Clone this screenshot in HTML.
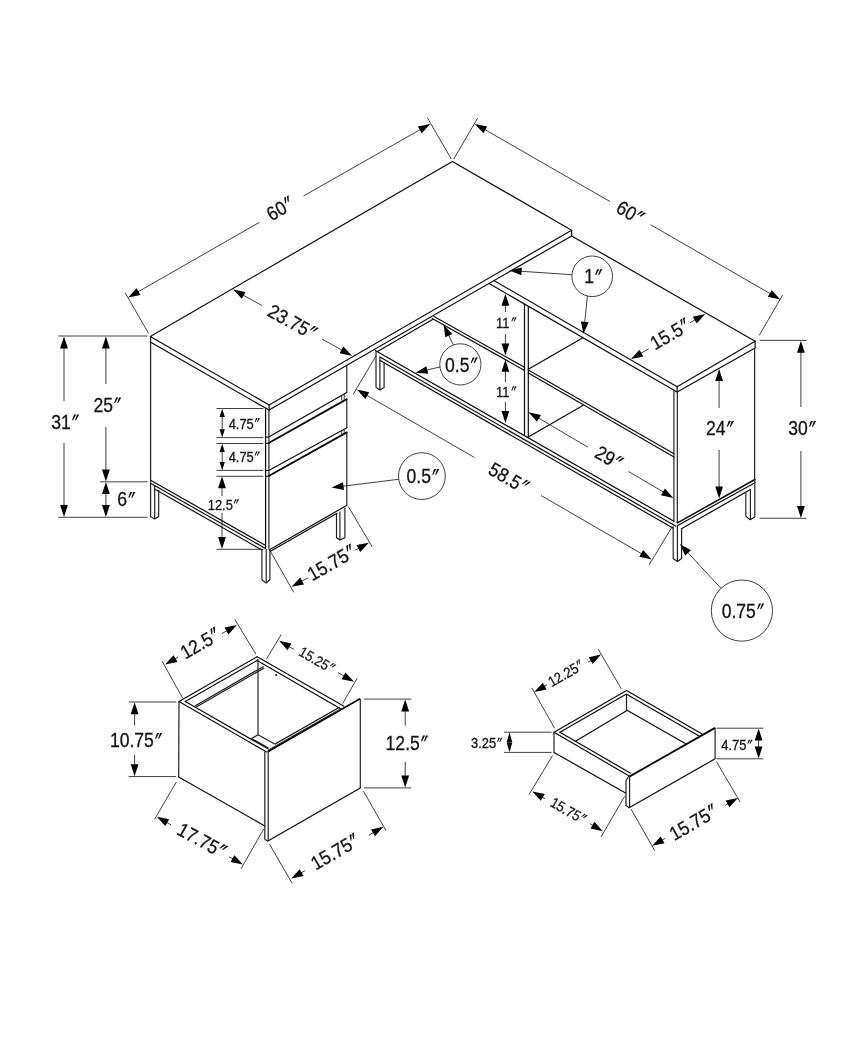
<!DOCTYPE html>
<html><head><meta charset="utf-8"><title>desk dimensions</title>
<style>
html,body{margin:0;padding:0;background:#fff}
body{width:865px;height:1050px;overflow:hidden}
svg{display:block;will-change:transform}
text{font-family:"Liberation Sans",sans-serif;fill:#111;stroke:#111;stroke-width:0.28}
.k{stroke:#0a0a0a;stroke-width:1.2;fill:none;stroke-linecap:round;stroke-linejoin:round}
.kk{stroke:#0a0a0a;stroke-width:1.8;fill:none;stroke-linecap:round}
.m{stroke:#1a1a1a;stroke-width:1.15;fill:none;stroke-linejoin:round}
.t{stroke:#1c1c1c;stroke-width:0.85;fill:none}
.kk2{stroke:#0a0a0a;stroke-width:1.5;fill:none;stroke-linecap:round}
.n{stroke:#111;stroke-width:0.8;fill:none}
.a{fill:#000;stroke:none}
</style></head><body>
<svg width="865" height="1050" viewBox="0 0 865 1050">
<rect width="865" height="1050" fill="#fff"/>
<path class="k" d="M150.30 336.40 L452.40 161.40 L571.60 230.30 L269.10 404.90 Z"/>
<path class="k" d="M150.30 342.00 L269.10 410.10 L571.60 235.90"/>
<line class="k" x1="269.10" y1="404.90" x2="269.10" y2="410.10"/>
<line class="k" x1="571.60" y1="230.30" x2="571.60" y2="235.90"/>
<path class="k" d="M571.60 235.90 L755.10 341.20 L677.10 386.70 L493.90 280.50"/>
<path class="k" d="M755.10 341.20 L755.10 348.00 L677.10 391.90 L489.50 283.80"/>
<line class="k" x1="677.10" y1="386.70" x2="677.10" y2="391.90"/>
<line class="m" x1="754.60" y1="348.00" x2="754.60" y2="480.00"/>
<line class="m" x1="673.90" y1="390.30" x2="673.90" y2="521.20"/>
<line class="m" x1="677.30" y1="392.00" x2="677.30" y2="522.90"/>
<line class="kk2" x1="677.40" y1="522.90" x2="754.90" y2="479.50"/>
<line class="k" x1="677.70" y1="525.50" x2="754.90" y2="482.80"/>
<line class="k" x1="681.40" y1="528.80" x2="750.40" y2="489.60"/>
<line class="m" x1="754.80" y1="479.40" x2="754.80" y2="516.90"/>
<path class="m" d="M673.20 526.50 L673.20 558.60 L677.40 561.40 L681.60 558.60 L681.60 528.80"/>
<line class="m" x1="677.40" y1="525.50" x2="677.40" y2="561.40"/>
<path class="m" d="M745.80 492.40 L745.80 516.40 L750.40 519.70 L754.70 516.90"/>
<line class="m" x1="750.40" y1="489.60" x2="750.40" y2="519.70"/>
<line class="k" x1="375.30" y1="350.40" x2="673.90" y2="521.20"/>
<line class="k" x1="379.90" y1="356.90" x2="676.00" y2="526.30"/>
<line class="k" x1="380.20" y1="360.40" x2="672.90" y2="528.00"/>
<path class="m" d="M376.00 351.00 L376.00 387.30 L379.90 389.90 L384.10 387.50 L384.10 362.50"/>
<line class="m" x1="379.90" y1="356.90" x2="379.90" y2="389.90"/>
<line class="k" x1="377.50" y1="351.40" x2="433.00" y2="319.30"/>
<line class="k" x1="434.00" y1="316.40" x2="524.50" y2="367.30"/>
<line class="k" x1="432.20" y1="318.60" x2="524.50" y2="370.40"/>
<line class="k" x1="528.30" y1="369.90" x2="674.00" y2="453.70"/>
<line class="k" x1="528.30" y1="373.00" x2="674.00" y2="457.00"/>
<line class="k" x1="528.30" y1="369.20" x2="582.90" y2="337.70"/>
<line class="k" x1="528.30" y1="437.00" x2="582.90" y2="405.60"/>
<line class="k" x1="524.50" y1="304.30" x2="524.50" y2="434.90"/>
<line class="k" x1="528.30" y1="306.60" x2="528.30" y2="437.00"/>
<line class="m" x1="150.60" y1="336.40" x2="150.60" y2="479.90"/>
<line class="k" x1="150.60" y1="480.20" x2="265.20" y2="545.20"/>
<line class="k" x1="150.60" y1="483.30" x2="264.60" y2="548.00"/>
<line class="k" x1="154.90" y1="489.20" x2="261.80" y2="549.90"/>
<path class="m" d="M150.60 479.90 L150.60 516.40 L154.70 519.00 L158.70 516.40 L158.70 490.00"/>
<line class="m" x1="154.70" y1="485.20" x2="154.70" y2="519.00"/>
<line class="k" x1="265.60" y1="408.50" x2="265.60" y2="548.50"/>
<line class="m" x1="268.90" y1="410.10" x2="268.90" y2="549.50"/>
<path class="m" d="M261.90 549.30 L261.90 579.80 L266.20 583.10 L269.90 579.80 L269.90 550.00"/>
<line class="m" x1="266.20" y1="549.00" x2="266.20" y2="583.10"/>
<line class="k" x1="269.60" y1="549.80" x2="347.00" y2="505.20"/>
<line class="k" x1="270.50" y1="551.30" x2="337.00" y2="513.20"/>
<path class="m" d="M336.50 513.00 L336.50 537.80 L339.90 540.10 L344.90 537.80 L344.90 507.50"/>
<line class="m" x1="339.90" y1="511.50" x2="339.90" y2="540.10"/>
<line class="m" x1="346.80" y1="364.92" x2="346.80" y2="392.60"/>
<line class="k" x1="268.70" y1="437.00" x2="346.80" y2="392.60"/>
<line class="kk" x1="268.70" y1="443.00" x2="346.80" y2="399.10"/>
<line class="m" x1="346.80" y1="399.10" x2="346.80" y2="427.70"/>
<line class="k" x1="268.70" y1="470.50" x2="346.80" y2="427.70"/>
<line class="kk" x1="268.70" y1="476.00" x2="346.80" y2="432.40"/>
<line class="m" x1="346.80" y1="432.40" x2="346.80" y2="505.30"/>
<line class="n" x1="341.70" y1="395.50" x2="341.70" y2="400.50"/>
<line class="n" x1="344.20" y1="394.20" x2="344.20" y2="399.60"/>
<line class="n" x1="341.70" y1="430.40" x2="341.70" y2="434.80"/>
<line class="n" x1="344.20" y1="429.20" x2="344.20" y2="433.60"/>
<line class="m" x1="265.80" y1="437.00" x2="268.70" y2="437.00"/>
<line class="m" x1="265.80" y1="443.30" x2="268.70" y2="443.30"/>
<line class="m" x1="265.80" y1="470.50" x2="268.70" y2="470.50"/>
<line class="m" x1="265.80" y1="476.30" x2="268.70" y2="476.30"/>
<line class="t" x1="148.50" y1="333.30" x2="125.30" y2="293.00"/>
<line class="t" x1="451.30" y1="159.00" x2="427.50" y2="118.00"/>
<line class="t" x1="259.50" y1="222.30" x2="136.43" y2="292.73"/>
<polygon class="a" points="128.10,297.50 136.58,288.15 140.45,294.92"/>
<line class="t" x1="303.50" y1="196.00" x2="421.86" y2="128.65"/>
<polygon class="a" points="430.20,123.90 421.70,133.22 417.84,126.45"/>
<g transform="translate(279.60,208.70) rotate(-30)"><text transform="translate(-13.27,6.98) scale(0.9,1)" font-size="19.5">60</text><path d="M9.37 -7.18 L11.56 -7.18 L8.47 -1.52 L7.42 -1.52 Z" fill="#111"/><path d="M12.39 -7.18 L14.59 -7.18 L11.50 -1.52 L10.44 -1.52 Z" fill="#111"/></g>
<line class="t" x1="453.80" y1="159.00" x2="477.70" y2="118.00"/>
<line class="t" x1="759.20" y1="335.40" x2="782.80" y2="294.80"/>
<line class="t" x1="610.00" y1="201.50" x2="483.22" y2="128.68"/>
<polygon class="a" points="474.90,123.90 487.25,126.50 483.36,133.26"/>
<line class="t" x1="650.60" y1="224.70" x2="771.88" y2="294.61"/>
<polygon class="a" points="780.20,299.40 767.86,296.79 771.75,290.03"/>
<g transform="translate(629.80,212.20) rotate(30)"><text transform="translate(-13.27,6.98) scale(0.9,1)" font-size="19.5">60</text><path d="M9.37 -7.18 L11.56 -7.18 L8.47 -1.52 L7.42 -1.52 Z" fill="#111"/><path d="M12.39 -7.18 L14.59 -7.18 L11.50 -1.52 L10.44 -1.52 Z" fill="#111"/></g>
<line class="t" x1="262.00" y1="305.60" x2="241.59" y2="294.26"/>
<polygon class="a" points="233.20,289.60 245.58,292.02 241.80,298.84"/>
<line class="t" x1="322.00" y1="339.00" x2="343.62" y2="351.11"/>
<polygon class="a" points="352.00,355.80 339.62,353.34 343.44,346.53"/>
<g transform="translate(292.00,321.50) rotate(29)"><text transform="translate(-25.47,6.98) scale(0.9,1)" font-size="19.5">23.75</text><path d="M21.57 -7.18 L23.76 -7.18 L20.67 -1.52 L19.62 -1.52 Z" fill="#111"/><path d="M24.59 -7.18 L26.79 -7.18 L23.69 -1.52 L22.64 -1.52 Z" fill="#111"/></g>
<line class="t" x1="58.30" y1="336.00" x2="147.50" y2="336.00"/>
<line class="t" x1="58.30" y1="517.30" x2="147.50" y2="517.30"/>
<line class="t" x1="100.00" y1="481.80" x2="147.50" y2="481.80"/>
<line class="t" x1="64.00" y1="401.00" x2="64.00" y2="346.00"/>
<polygon class="a" points="64.00,336.40 67.90,348.40 60.10,348.40"/>
<line class="t" x1="64.00" y1="443.00" x2="64.00" y2="507.40"/>
<polygon class="a" points="64.00,517.00 60.10,505.00 67.90,505.00"/>
<g transform="translate(64.60,421.70) rotate(0)"><text transform="translate(-13.27,6.98) scale(0.9,1)" font-size="19.5">31</text><path d="M9.37 -7.18 L11.56 -7.18 L8.47 -1.52 L7.42 -1.52 Z" fill="#111"/><path d="M12.39 -7.18 L14.59 -7.18 L11.50 -1.52 L10.44 -1.52 Z" fill="#111"/></g>
<line class="t" x1="105.90" y1="384.00" x2="105.90" y2="346.00"/>
<polygon class="a" points="105.90,336.40 109.80,348.40 102.00,348.40"/>
<line class="t" x1="105.90" y1="427.00" x2="105.90" y2="471.90"/>
<polygon class="a" points="105.90,481.50 102.00,469.50 109.80,469.50"/>
<g transform="translate(106.70,404.60) rotate(0)"><text transform="translate(-13.27,6.98) scale(0.9,1)" font-size="19.5">25</text><path d="M9.37 -7.18 L11.56 -7.18 L8.47 -1.52 L7.42 -1.52 Z" fill="#111"/><path d="M12.39 -7.18 L14.59 -7.18 L11.50 -1.52 L10.44 -1.52 Z" fill="#111"/></g>
<polygon class="a" points="105.90,482.10 109.80,494.10 102.00,494.10"/>
<polygon class="a" points="105.90,517.00 102.00,505.00 109.80,505.00"/>
<line class="t" x1="105.90" y1="490.00" x2="105.90" y2="508.00"/>
<g transform="translate(125.70,499.30) rotate(0)"><text transform="translate(-8.39,6.98) scale(0.9,1)" font-size="19.5">6</text><path d="M4.49 -7.18 L6.68 -7.18 L3.59 -1.52 L2.54 -1.52 Z" fill="#111"/><path d="M7.51 -7.18 L9.71 -7.18 L6.62 -1.52 L5.56 -1.52 Z" fill="#111"/></g>
<line class="t" x1="216.50" y1="408.50" x2="263.30" y2="408.50"/>
<line class="t" x1="216.50" y1="437.60" x2="263.30" y2="437.60"/>
<line class="t" x1="216.50" y1="443.50" x2="263.30" y2="443.50"/>
<line class="t" x1="216.50" y1="470.40" x2="263.30" y2="470.40"/>
<line class="t" x1="216.50" y1="476.30" x2="263.30" y2="476.30"/>
<line class="t" x1="216.50" y1="549.30" x2="263.30" y2="549.30"/>
<polygon class="a" points="222.20,408.70 224.85,416.90 219.55,416.90"/>
<polygon class="a" points="222.20,437.40 219.55,429.20 224.85,429.20"/>
<line class="t" x1="222.20" y1="415.26" x2="222.20" y2="430.84"/>
<polygon class="a" points="222.20,443.70 224.85,451.90 219.55,451.90"/>
<polygon class="a" points="222.20,470.20 219.55,462.00 224.85,462.00"/>
<line class="t" x1="222.20" y1="450.26" x2="222.20" y2="463.64"/>
<g transform="translate(243.80,423.40) rotate(0)"><text transform="translate(-15.17,5.19) scale(0.89,1)" font-size="14.5">4.75</text><path d="M12.27 -5.34 L13.90 -5.34 L11.60 -1.13 L10.82 -1.13 Z" fill="#111"/><path d="M14.52 -5.34 L16.15 -5.34 L13.85 -1.13 L13.07 -1.13 Z" fill="#111"/></g>
<g transform="translate(243.80,456.90) rotate(0)"><text transform="translate(-15.17,5.19) scale(0.89,1)" font-size="14.5">4.75</text><path d="M12.27 -5.34 L13.90 -5.34 L11.60 -1.13 L10.82 -1.13 Z" fill="#111"/><path d="M14.52 -5.34 L16.15 -5.34 L13.85 -1.13 L13.07 -1.13 Z" fill="#111"/></g>
<line class="t" x1="222.00" y1="496.00" x2="222.00" y2="485.90"/>
<polygon class="a" points="222.00,476.30 225.90,488.30 218.10,488.30"/>
<line class="t" x1="222.00" y1="513.00" x2="222.00" y2="539.40"/>
<polygon class="a" points="222.00,549.00 218.10,537.00 225.90,537.00"/>
<g transform="translate(222.90,504.60) rotate(0)"><text transform="translate(-15.17,5.19) scale(0.89,1)" font-size="14.5">12.5</text><path d="M12.27 -5.34 L13.90 -5.34 L11.60 -1.13 L10.82 -1.13 Z" fill="#111"/><path d="M14.52 -5.34 L16.15 -5.34 L13.85 -1.13 L13.07 -1.13 Z" fill="#111"/></g>
<line class="t" x1="270.00" y1="550.60" x2="293.80" y2="592.40"/>
<line class="t" x1="348.20" y1="506.30" x2="372.20" y2="546.80"/>
<circle class="t" cx="421.90" cy="476.10" r="23.40"/>
<line class="t" x1="398.60" y1="479.30" x2="341.13" y2="486.42"/>
<polygon class="a" points="331.60,487.60 343.03,482.25 343.99,490.00"/>
<g transform="translate(422.30,476.30) rotate(0)"><text transform="translate(-15.71,6.98) scale(0.9,1)" font-size="19.5">0.5</text><path d="M11.81 -7.18 L14.00 -7.18 L10.91 -1.52 L9.86 -1.52 Z" fill="#111"/><path d="M14.83 -7.18 L17.02 -7.18 L13.93 -1.52 L12.88 -1.52 Z" fill="#111"/></g>
<circle class="t" cx="460.40" cy="364.40" r="20.60"/>
<line class="t" x1="453.30" y1="345.00" x2="447.80" y2="333.38"/>
<polygon class="a" points="443.70,324.70 452.36,333.88 445.30,337.22"/>
<line class="t" x1="440.00" y1="366.90" x2="424.93" y2="370.54"/>
<polygon class="a" points="415.60,372.80 426.35,366.19 428.18,373.77"/>
<g transform="translate(460.80,364.60) rotate(0)"><text transform="translate(-15.71,6.98) scale(0.9,1)" font-size="19.5">0.5</text><path d="M11.81 -7.18 L14.00 -7.18 L10.91 -1.52 L9.86 -1.52 Z" fill="#111"/><path d="M14.83 -7.18 L17.02 -7.18 L13.93 -1.52 L12.88 -1.52 Z" fill="#111"/></g>
<circle class="t" cx="592.20" cy="276.30" r="20.30"/>
<line class="t" x1="571.90" y1="274.70" x2="519.18" y2="271.15"/>
<polygon class="a" points="509.60,270.50 521.84,267.42 521.31,275.20"/>
<line class="t" x1="587.40" y1="296.40" x2="584.50" y2="324.25"/>
<polygon class="a" points="583.50,333.80 580.87,321.46 588.62,322.27"/>
<g transform="translate(592.60,276.50) rotate(0)"><text transform="translate(-8.39,6.98) scale(0.9,1)" font-size="19.5">1</text><path d="M4.49 -7.18 L6.68 -7.18 L3.59 -1.52 L2.54 -1.52 Z" fill="#111"/><path d="M7.51 -7.18 L9.71 -7.18 L6.62 -1.52 L5.56 -1.52 Z" fill="#111"/></g>
<line class="t" x1="505.40" y1="312.00" x2="505.40" y2="303.40"/>
<polygon class="a" points="505.40,293.80 509.30,305.80 501.50,305.80"/>
<line class="t" x1="505.40" y1="334.00" x2="505.40" y2="346.00"/>
<polygon class="a" points="505.40,355.60 501.50,343.60 509.30,343.60"/>
<line class="t" x1="505.40" y1="382.30" x2="505.40" y2="369.40"/>
<polygon class="a" points="505.40,359.80 509.30,371.80 501.50,371.80"/>
<line class="t" x1="505.40" y1="402.00" x2="505.40" y2="413.40"/>
<polygon class="a" points="505.40,423.00 501.50,411.00 509.30,411.00"/>
<g transform="translate(505.90,322.60) rotate(0)"><text transform="translate(-9.79,5.19) scale(0.89,1)" font-size="14.5">11</text><path d="M6.89 -5.34 L8.52 -5.34 L6.22 -1.13 L5.44 -1.13 Z" fill="#111"/><path d="M9.13 -5.34 L10.77 -5.34 L8.47 -1.13 L7.68 -1.13 Z" fill="#111"/></g>
<g transform="translate(505.90,391.60) rotate(0)"><text transform="translate(-9.79,5.19) scale(0.89,1)" font-size="14.5">11</text><path d="M6.89 -5.34 L8.52 -5.34 L6.22 -1.13 L5.44 -1.13 Z" fill="#111"/><path d="M9.13 -5.34 L10.77 -5.34 L8.47 -1.13 L7.68 -1.13 Z" fill="#111"/></g>
<line class="t" x1="648.70" y1="348.80" x2="639.32" y2="354.21"/>
<polygon class="a" points="631.00,359.00 639.45,349.63 643.34,356.39"/>
<line class="t" x1="690.00" y1="322.80" x2="696.89" y2="318.81"/>
<polygon class="a" points="705.20,314.00 696.77,323.39 692.86,316.64"/>
<g transform="translate(669.40,334.20) rotate(-30)"><text transform="translate(-20.59,6.98) scale(0.9,1)" font-size="19.5">15.5</text><path d="M16.69 -7.18 L18.88 -7.18 L15.79 -1.52 L14.74 -1.52 Z" fill="#111"/><path d="M19.71 -7.18 L21.90 -7.18 L18.81 -1.52 L17.76 -1.52 Z" fill="#111"/></g>
<line class="t" x1="587.80" y1="447.10" x2="536.87" y2="417.08"/>
<polygon class="a" points="528.60,412.20 540.92,414.93 536.96,421.65"/>
<line class="t" x1="628.60" y1="471.50" x2="665.03" y2="493.02"/>
<polygon class="a" points="673.30,497.90 660.98,495.16 664.95,488.44"/>
<g transform="translate(608.40,457.20) rotate(30)"><text transform="translate(-13.27,6.98) scale(0.9,1)" font-size="19.5">29</text><path d="M9.37 -7.18 L11.56 -7.18 L8.47 -1.52 L7.42 -1.52 Z" fill="#111"/><path d="M12.39 -7.18 L14.59 -7.18 L11.50 -1.52 L10.44 -1.52 Z" fill="#111"/></g>
<line class="t" x1="376.20" y1="355.50" x2="353.20" y2="394.40"/>
<line class="t" x1="672.20" y1="526.70" x2="649.10" y2="564.90"/>
<line class="t" x1="474.50" y1="457.50" x2="365.21" y2="394.40"/>
<polygon class="a" points="356.90,389.60 369.24,392.22 365.34,398.98"/>
<line class="t" x1="541.00" y1="495.50" x2="643.29" y2="554.69"/>
<polygon class="a" points="651.60,559.50 639.26,556.87 643.17,550.11"/>
<g transform="translate(508.30,477.60) rotate(30)"><text transform="translate(-20.59,6.98) scale(0.9,1)" font-size="19.5">58.5</text><path d="M16.69 -7.18 L18.88 -7.18 L15.79 -1.52 L14.74 -1.52 Z" fill="#111"/><path d="M19.71 -7.18 L21.90 -7.18 L18.81 -1.52 L17.76 -1.52 Z" fill="#111"/></g>
<line class="t" x1="719.10" y1="408.00" x2="719.10" y2="378.60"/>
<polygon class="a" points="719.10,369.00 723.00,381.00 715.20,381.00"/>
<line class="t" x1="719.10" y1="450.00" x2="719.10" y2="489.00"/>
<polygon class="a" points="719.10,498.60 715.20,486.60 723.00,486.60"/>
<g transform="translate(719.30,428.20) rotate(0)"><text transform="translate(-13.27,6.98) scale(0.9,1)" font-size="19.5">24</text><path d="M9.37 -7.18 L11.56 -7.18 L8.47 -1.52 L7.42 -1.52 Z" fill="#111"/><path d="M12.39 -7.18 L14.59 -7.18 L11.50 -1.52 L10.44 -1.52 Z" fill="#111"/></g>
<line class="t" x1="759.60" y1="340.40" x2="806.60" y2="340.40"/>
<line class="t" x1="759.60" y1="518.30" x2="806.60" y2="518.30"/>
<line class="t" x1="800.90" y1="407.00" x2="800.90" y2="350.40"/>
<polygon class="a" points="800.90,340.80 804.80,352.80 797.00,352.80"/>
<line class="t" x1="800.90" y1="451.00" x2="800.90" y2="508.40"/>
<polygon class="a" points="800.90,518.00 797.00,506.00 804.80,506.00"/>
<g transform="translate(801.50,428.20) rotate(0)"><text transform="translate(-13.27,6.98) scale(0.9,1)" font-size="19.5">30</text><path d="M9.37 -7.18 L11.56 -7.18 L8.47 -1.52 L7.42 -1.52 Z" fill="#111"/><path d="M12.39 -7.18 L14.59 -7.18 L11.50 -1.52 L10.44 -1.52 Z" fill="#111"/></g>
<circle class="t" cx="741.90" cy="610.60" r="30.60"/>
<line class="t" x1="720.90" y1="588.20" x2="686.44" y2="551.13"/>
<polygon class="a" points="679.90,544.10 690.93,550.23 685.21,555.54"/>
<g transform="translate(742.30,610.80) rotate(0)"><text transform="translate(-20.59,6.98) scale(0.9,1)" font-size="19.5">0.75</text><path d="M16.69 -7.18 L18.88 -7.18 L15.79 -1.52 L14.74 -1.52 Z" fill="#111"/><path d="M19.71 -7.18 L21.90 -7.18 L18.81 -1.52 L17.76 -1.52 Z" fill="#111"/></g>
<line class="k" x1="179.00" y1="701.60" x2="257.10" y2="656.80"/>
<line class="k" x1="185.30" y1="701.60" x2="257.10" y2="660.50"/>
<line class="m" x1="194.90" y1="706.00" x2="263.60" y2="666.40"/>
<line class="m" x1="195.80" y1="707.30" x2="264.20" y2="667.90"/>
<line class="m" x1="179.00" y1="701.60" x2="178.70" y2="777.00"/>
<line class="k" x1="179.00" y1="701.60" x2="266.50" y2="751.90"/>
<line class="k" x1="185.30" y1="701.60" x2="268.00" y2="748.80"/>
<line class="m" x1="258.00" y1="658.90" x2="258.00" y2="734.80"/>
<line class="m" x1="258.00" y1="734.80" x2="251.50" y2="738.60"/>
<line class="m" x1="251.50" y1="738.60" x2="268.50" y2="748.00"/>
<line class="m" x1="258.00" y1="734.80" x2="274.60" y2="744.00"/>
<line class="k" x1="257.10" y1="656.80" x2="343.60" y2="706.10"/>
<line class="k" x1="257.10" y1="660.50" x2="341.00" y2="709.00"/>
<line class="k" x1="178.70" y1="777.00" x2="264.80" y2="825.90"/>
<line class="kk" x1="268.20" y1="751.40" x2="359.60" y2="699.00"/>
<line class="m" x1="360.30" y1="699.00" x2="360.30" y2="787.90"/>
<line class="k" x1="360.30" y1="787.90" x2="267.90" y2="841.00"/>
<line class="m" x1="264.80" y1="751.60" x2="264.80" y2="839.50"/>
<line class="m" x1="268.20" y1="751.60" x2="268.20" y2="841.00"/>
<line class="m" x1="264.80" y1="839.50" x2="267.90" y2="841.00"/>
<line class="n" x1="268.20" y1="750.00" x2="340.50" y2="708.80"/>
<line class="k" x1="275.10" y1="744.00" x2="339.00" y2="707.60"/>
<circle cx="276.1" cy="674.9" r="1.0" fill="#111"/>
<line class="t" x1="182.80" y1="698.40" x2="162.00" y2="661.00"/>
<line class="t" x1="255.80" y1="654.00" x2="234.80" y2="619.40"/>
<line class="t" x1="178.00" y1="657.10" x2="173.43" y2="659.72"/>
<polygon class="a" points="165.10,664.50 173.57,655.15 177.45,661.91"/>
<line class="t" x1="222.00" y1="633.60" x2="228.59" y2="629.80"/>
<polygon class="a" points="236.90,625.00 228.46,634.38 224.56,627.62"/>
<g transform="translate(199.50,643.50) rotate(-30)"><text transform="translate(-20.59,6.98) scale(0.9,1)" font-size="19.5">12.5</text><path d="M16.69 -7.18 L18.88 -7.18 L15.79 -1.52 L14.74 -1.52 Z" fill="#111"/><path d="M19.71 -7.18 L21.90 -7.18 L18.81 -1.52 L17.76 -1.52 Z" fill="#111"/></g>
<line class="t" x1="128.70" y1="702.00" x2="176.20" y2="702.00"/>
<line class="t" x1="128.70" y1="776.60" x2="176.20" y2="776.60"/>
<line class="t" x1="134.60" y1="725.50" x2="134.60" y2="711.90"/>
<polygon class="a" points="134.60,702.30 138.50,714.30 130.70,714.30"/>
<line class="t" x1="134.60" y1="754.60" x2="134.60" y2="766.70"/>
<polygon class="a" points="134.60,776.30 130.70,764.30 138.50,764.30"/>
<g transform="translate(135.40,740.20) rotate(0)"><text transform="translate(-25.47,6.98) scale(0.9,1)" font-size="19.5">10.75</text><path d="M21.57 -7.18 L23.76 -7.18 L20.67 -1.52 L19.62 -1.52 Z" fill="#111"/><path d="M24.59 -7.18 L26.79 -7.18 L23.69 -1.52 L22.64 -1.52 Z" fill="#111"/></g>
<line class="t" x1="266.60" y1="658.90" x2="281.20" y2="634.60"/>
<line class="t" x1="342.60" y1="703.60" x2="357.20" y2="678.20"/>
<line class="t" x1="294.00" y1="649.40" x2="287.41" y2="645.60"/>
<polygon class="a" points="279.10,640.80 291.44,643.42 287.54,650.18"/>
<line class="t" x1="338.00" y1="672.60" x2="345.68" y2="677.01"/>
<polygon class="a" points="354.00,681.80 341.65,679.20 345.54,672.44"/>
<g transform="translate(316.60,659.70) rotate(30)"><text transform="translate(-18.76,5.19) scale(0.89,1)" font-size="14.5">15.25</text><path d="M15.86 -5.34 L17.49 -5.34 L15.19 -1.13 L14.41 -1.13 Z" fill="#111"/><path d="M18.10 -5.34 L19.74 -5.34 L17.44 -1.13 L16.65 -1.13 Z" fill="#111"/></g>
<line class="t" x1="364.00" y1="699.10" x2="411.30" y2="699.10"/>
<line class="t" x1="364.00" y1="787.90" x2="411.30" y2="787.90"/>
<line class="t" x1="405.20" y1="725.50" x2="405.20" y2="709.00"/>
<polygon class="a" points="405.20,699.40 409.10,711.40 401.30,711.40"/>
<line class="t" x1="405.20" y1="762.00" x2="405.20" y2="778.00"/>
<polygon class="a" points="405.20,787.60 401.30,775.60 409.10,775.60"/>
<g transform="translate(406.20,742.80) rotate(0)"><text transform="translate(-20.59,6.98) scale(0.9,1)" font-size="19.5">12.5</text><path d="M16.69 -7.18 L18.88 -7.18 L15.79 -1.52 L14.74 -1.52 Z" fill="#111"/><path d="M19.71 -7.18 L21.90 -7.18 L18.81 -1.52 L17.76 -1.52 Z" fill="#111"/></g>
<line class="t" x1="176.30" y1="782.10" x2="154.60" y2="819.30"/>
<line class="t" x1="263.70" y1="829.00" x2="241.00" y2="868.80"/>
<line class="t" x1="171.00" y1="824.80" x2="165.14" y2="821.46"/>
<polygon class="a" points="156.80,816.70 169.16,819.26 165.29,826.03"/>
<line class="t" x1="229.00" y1="856.70" x2="234.55" y2="859.86"/>
<polygon class="a" points="242.90,864.60 230.54,862.06 234.39,855.28"/>
<g transform="translate(201.50,839.90) rotate(29)"><text transform="translate(-25.47,6.98) scale(0.9,1)" font-size="19.5">17.75</text><path d="M21.57 -7.18 L23.76 -7.18 L20.67 -1.52 L19.62 -1.52 Z" fill="#111"/><path d="M24.59 -7.18 L26.79 -7.18 L23.69 -1.52 L22.64 -1.52 Z" fill="#111"/></g>
<line class="t" x1="269.50" y1="844.20" x2="292.20" y2="883.40"/>
<line class="t" x1="363.40" y1="791.10" x2="386.00" y2="830.60"/>
<line class="t" x1="305.00" y1="870.60" x2="299.51" y2="873.79"/>
<polygon class="a" points="291.20,878.60 299.63,869.21 303.54,875.96"/>
<line class="t" x1="369.00" y1="835.10" x2="375.08" y2="831.59"/>
<polygon class="a" points="383.40,826.80 374.95,836.17 371.06,829.41"/>
<g transform="translate(334.40,851.90) rotate(-30)"><text transform="translate(-25.47,6.98) scale(0.9,1)" font-size="19.5">15.75</text><path d="M21.57 -7.18 L23.76 -7.18 L20.67 -1.52 L19.62 -1.52 Z" fill="#111"/><path d="M24.59 -7.18 L26.79 -7.18 L23.69 -1.52 L22.64 -1.52 Z" fill="#111"/></g>
<line class="t" x1="308.30" y1="577.70" x2="299.96" y2="582.17"/>
<polygon class="a" points="291.50,586.70 300.24,577.60 303.92,584.47"/>
<line class="t" x1="354.90" y1="550.30" x2="360.44" y2="547.33"/>
<polygon class="a" points="368.90,542.80 360.16,551.90 356.48,545.03"/>
<g transform="translate(330.90,562.80) rotate(-29.6)"><text transform="translate(-25.47,6.98) scale(0.9,1)" font-size="19.5">15.75</text><path d="M21.57 -7.18 L23.76 -7.18 L20.67 -1.52 L19.62 -1.52 Z" fill="#111"/><path d="M24.59 -7.18 L26.79 -7.18 L23.69 -1.52 L22.64 -1.52 Z" fill="#111"/></g>
<line class="k" x1="554.00" y1="732.20" x2="626.50" y2="690.60"/>
<line class="k" x1="559.90" y1="732.20" x2="626.50" y2="694.10"/>
<line class="m" x1="554.00" y1="732.20" x2="554.00" y2="752.40"/>
<line class="k" x1="554.00" y1="752.40" x2="625.50" y2="793.00"/>
<line class="k" x1="554.00" y1="732.20" x2="629.60" y2="776.30"/>
<line class="k" x1="559.90" y1="732.20" x2="630.60" y2="773.20"/>
<line class="k" x1="575.50" y1="741.20" x2="626.50" y2="710.70"/>
<line class="m" x1="626.50" y1="694.10" x2="626.50" y2="710.70"/>
<line class="k" x1="626.50" y1="690.60" x2="703.00" y2="734.50"/>
<line class="k" x1="626.60" y1="694.30" x2="699.90" y2="736.60"/>
<line class="k" x1="626.60" y1="710.00" x2="685.30" y2="743.60"/>
<line class="kk" x1="630.20" y1="776.10" x2="714.60" y2="728.10"/>
<line class="m" x1="715.10" y1="728.20" x2="715.10" y2="758.80"/>
<line class="k" x1="715.10" y1="758.80" x2="629.10" y2="807.70"/>
<path class="m" d="M629.10 775.50 L626.00 780.70 L626.00 805.60 L629.10 807.70"/>
<line class="m" x1="629.60" y1="776.50" x2="629.60" y2="807.50"/>
<line class="t" x1="554.70" y1="728.40" x2="531.80" y2="687.90"/>
<line class="t" x1="621.30" y1="688.90" x2="598.40" y2="649.40"/>
<line class="t" x1="547.00" y1="684.70" x2="542.62" y2="687.22"/>
<polygon class="a" points="534.30,692.00 542.76,682.64 546.65,689.40"/>
<line class="t" x1="588.00" y1="662.20" x2="592.80" y2="659.42"/>
<polygon class="a" points="601.10,654.60 592.68,664.00 588.76,657.25"/>
<g transform="translate(565.30,673.50) rotate(-30)"><text transform="translate(-18.76,5.19) scale(0.89,1)" font-size="14.5">12.25</text><path d="M15.86 -5.34 L17.49 -5.34 L15.19 -1.13 L14.41 -1.13 Z" fill="#111"/><path d="M18.10 -5.34 L19.74 -5.34 L17.44 -1.13 L16.65 -1.13 Z" fill="#111"/></g>
<line class="t" x1="504.10" y1="732.20" x2="551.60" y2="732.20"/>
<line class="t" x1="504.10" y1="752.40" x2="551.60" y2="752.40"/>
<polygon class="a" points="509.50,732.40 512.30,742.20 506.70,742.20"/>
<polygon class="a" points="509.50,752.20 506.70,742.40 512.30,742.40"/>
<line class="t" x1="509.50" y1="738.00" x2="509.50" y2="746.00"/>
<g transform="translate(486.20,743.20) rotate(0)"><text transform="translate(-15.17,5.19) scale(0.89,1)" font-size="14.5">3.25</text><path d="M12.27 -5.34 L13.90 -5.34 L11.60 -1.13 L10.82 -1.13 Z" fill="#111"/><path d="M14.52 -5.34 L16.15 -5.34 L13.85 -1.13 L13.07 -1.13 Z" fill="#111"/></g>
<line class="t" x1="716.50" y1="728.20" x2="763.30" y2="728.20"/>
<line class="t" x1="716.50" y1="758.80" x2="763.30" y2="758.80"/>
<polygon class="a" points="758.60,728.40 762.50,740.40 754.70,740.40"/>
<polygon class="a" points="758.60,758.60 754.70,746.60 762.50,746.60"/>
<line class="t" x1="758.60" y1="738.00" x2="758.60" y2="749.00"/>
<g transform="translate(736.50,745.00) rotate(0)"><text transform="translate(-15.17,5.19) scale(0.89,1)" font-size="14.5">4.75</text><path d="M12.27 -5.34 L13.90 -5.34 L11.60 -1.13 L10.82 -1.13 Z" fill="#111"/><path d="M14.52 -5.34 L16.15 -5.34 L13.85 -1.13 L13.07 -1.13 Z" fill="#111"/></g>
<line class="t" x1="552.60" y1="755.50" x2="529.10" y2="794.50"/>
<line class="t" x1="624.60" y1="796.30" x2="601.00" y2="837.00"/>
<line class="t" x1="545.00" y1="798.70" x2="540.71" y2="796.21"/>
<polygon class="a" points="532.40,791.40 544.74,794.04 540.83,800.79"/>
<line class="t" x1="590.00" y1="823.80" x2="594.57" y2="826.42"/>
<polygon class="a" points="602.90,831.20 590.55,828.61 594.43,821.85"/>
<g transform="translate(568.00,810.40) rotate(30)"><text transform="translate(-18.76,5.19) scale(0.89,1)" font-size="14.5">15.75</text><path d="M15.86 -5.34 L17.49 -5.34 L15.19 -1.13 L14.41 -1.13 Z" fill="#111"/><path d="M18.10 -5.34 L19.74 -5.34 L17.44 -1.13 L16.65 -1.13 Z" fill="#111"/></g>
<line class="t" x1="631.10" y1="809.20" x2="654.70" y2="850.60"/>
<line class="t" x1="716.40" y1="761.50" x2="740.20" y2="802.10"/>
<line class="t" x1="665.00" y1="838.40" x2="660.51" y2="841.00"/>
<polygon class="a" points="652.20,845.80 660.64,836.42 664.54,843.17"/>
<line class="t" x1="725.00" y1="805.40" x2="729.57" y2="802.78"/>
<polygon class="a" points="737.90,798.00 729.43,807.35 725.55,800.59"/>
<g transform="translate(692.80,822.50) rotate(-30)"><text transform="translate(-25.47,6.98) scale(0.9,1)" font-size="19.5">15.75</text><path d="M21.57 -7.18 L23.76 -7.18 L20.67 -1.52 L19.62 -1.52 Z" fill="#111"/><path d="M24.59 -7.18 L26.79 -7.18 L23.69 -1.52 L22.64 -1.52 Z" fill="#111"/></g>
</svg>
</body></html>
